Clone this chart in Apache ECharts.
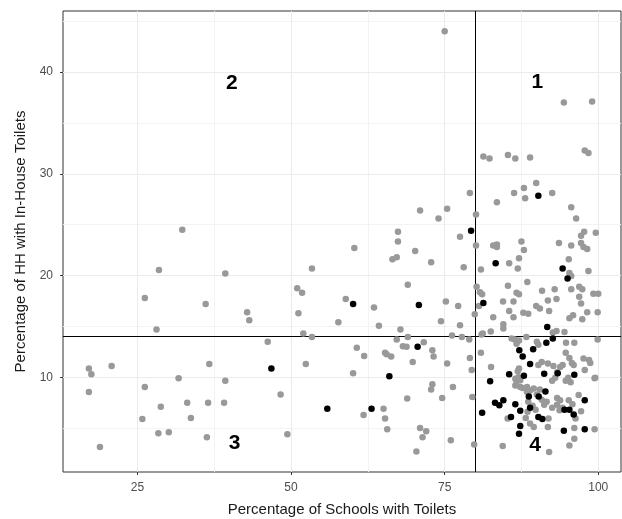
<!DOCTYPE html>
<html>
<head>
<meta charset="utf-8">
<script src="https://cdn.jsdelivr.net/npm/echarts@6/dist/echarts.min.js"></script>
<style>
html,body{margin:0;padding:0;background:#fff;}
#chart{width:622px;height:519px;}
</style>
</head>
<body>
<div id="chart"></div>
<script>
// ---- Data ----
var xTicks = [25, 50, 75, 100];
var yTicks = [10, 20, 30, 40];
var xMinorGrid = [37.5, 62.5, 87.5];
var yMinorGrid = [5, 15, 25, 35, 45];
var xCut = 80;
var yCut = 14;

var otherDistricts = [
  [32.3,24.5],[28.5,20.55],[39.3,20.2],[26.2,17.8],[36.1,17.2],[28.1,14.7],[17.1,10.85],[17.5,10.3],
  [20.8,11.1],[36.7,11.3],[17.1,8.55],[31.7,9.9],[39.3,9.65],[26.2,9.05],[28.8,7.1],[33.1,7.5],
  [36.5,7.5],[39.1,7.5],[25.8,5.9],[33.7,6.0],[28.4,4.5],[30.1,4.6],[36.3,4.1],[18.9,3.15],
  [42.85,16.4],[43.2,15.6],[46.2,13.5],[48.3,8.3],[49.4,4.4],[51.0,18.75],[51.8,18.3],[51.2,16.3],
  [52.0,14.3],[52.4,11.3],[53.4,20.7],[53.4,13.95],
  [60.3,22.7],[58.9,17.7],[63.5,16.85],[57.7,15.4],[64.3,15.05],[60.7,12.9],[61.9,12.1],[60.1,10.4],[61.8,6.3],
  [75.0,44.0],[79.1,28.1],[71.0,26.4],[75.4,26.55],[74.0,25.6],[80.1,26.0],[67.4,24.3],[67.4,23.35],
  [77.5,23.8],[80.1,22.95],[70.2,22.4],[67.2,21.8],[66.5,21.6],[72.8,21.3],[78.1,20.8],[80.9,20.6],
  [69.0,19.1],[80.2,18.9],[80.75,18.35],[81.1,18.15],[75.2,17.45],[77.2,17.0],[80.6,17.0],[79.9,16.2],
  [74.4,15.5],[77.5,15.1],[67.8,14.7],[76.2,14.1],[77.8,13.95],[79.0,13.7],[81.0,14.2],[67.2,13.7],
  [69.0,13.95],[68.2,13.05],[68.8,13.0],[71.6,13.45],[65.3,12.4],[65.55,12.25],[66.3,12.05],[73.0,12.65],
  [73.2,12.05],[69.8,11.5],[75.4,11.35],[79.1,11.9],[80.9,12.4],[79.4,10.7],[73.0,9.3],[72.8,8.8],
  [76.35,9.05],[74.6,7.95],[68.9,7.9],[79.5,8.05],[65.05,6.9],[65.3,5.95],[65.65,4.9],[71.0,5.0],
  [72.0,4.7],[71.4,4.1],[76.0,3.8],[79.8,3.4],[70.4,2.7],
  [94.4,37.0],[99.0,37.1],[81.3,31.7],[82.3,31.5],[85.3,31.85],[86.5,31.5],[88.9,31.6],[97.8,32.3],
  [98.4,32.05],[83.5,27.2],[86.3,28.1],[87.9,28.6],[89.9,29.1],[88.1,27.6],[92.5,28.1],[95.6,26.7],
  [96.4,25.6],[97.7,24.3],[99.6,24.2],[82.9,22.95],[83.5,23.05],[83.5,22.8],[87.5,23.35],[87.9,22.5],
  [93.6,23.2],[95.6,22.95],[97.2,23.9],[97.2,23.2],[97.6,22.8],[98.2,22.6],[87.1,21.7],[95.2,21.6],
  [85.5,21.2],[86.9,20.7],[88.45,19.35],[85.3,19.0],[86.7,18.3],[87.1,18.15],[90.85,18.5],[91.8,17.55],
  [86.2,17.45],[84.5,17.45],[89.9,17.0],[90.5,16.75],[85.5,16.5],
  [95.3,20.25],[95.6,19.95],[98.4,20.45],[92.9,18.65],[95.6,18.65],[96.9,18.9],[97.4,18.65],[99.2,18.2],
  [100.0,18.2],[93.2,17.7],[96.9,17.9],[97.2,17.25],
  [92.0,16.5],[98.2,16.4],[99.9,16.4],[95.9,16.1],[95.3,15.8],[97.4,15.7],[93.2,14.55],[92.6,14.4],
  [94.5,14.45],[96.1,13.4],[99.9,13.7],[94.75,13.4],
  [82.9,15.9],[86.2,15.9],[87.8,16.35],[88.6,16.25],[84.55,15.2],[84.55,14.8],[81.2,14.3],[82.5,14.5],
  [85.9,13.8],[86.4,13.7],[87.1,13.6],[86.7,13.3],[88.3,13.95],[90.0,13.5],[90.25,13.2],
  [94.7,12.4],[95.3,11.9],[95.7,11.4],[96.0,11.2],[97.6,11.85],[98.5,11.7],[98.7,11.4],[97.8,10.7],
  [99.4,9.9],[94.2,11.2],[93.8,11.0],[93.3,10.5],[92.5,9.65],[94.7,9.65],[95.5,9.5],[93.0,9.95],[95.1,9.95],
  [91.8,11.35],[92.7,11.1],[99.5,9.95],
  [96.8,8.25],[93.3,7.95],[93.8,7.75],[95.2,7.75],[95.8,7.35],[90.8,7.8],[91.2,7.3],[91.6,7.6],
  [93.3,7.3],[92.5,7.0],[94.2,7.0],[93.7,6.75],[97.2,6.65],[96.3,5.95],[91.9,5.95],[91.8,5.1],
  [96.1,5.0],[99.4,4.9],[96.1,3.95],[95.3,3.3],[92.0,2.65],
  [90.8,11.5],[90.25,11.2],[82.55,11.0],[86.9,10.6],[86.5,9.85],[86.7,9.55],[87.3,9.7],[87.7,8.95],
  [88.4,8.55],[88.9,8.7],[90.0,8.3],[90.5,8.8],[87.1,10.85],[87.0,10.0],[86.5,9.2],[87.3,9.05],
  [88.4,9.05],[89.5,8.9],
  [85.25,5.95],[88.9,5.45],[89.5,5.1],[84.45,3.25],
  [88.6,7.6],[89.3,7.2],[89.8,6.8],[88.5,6.6],[88.2,6.0]
];

var highlightDistricts = [
  [46.8,10.85],[60.1,17.2],[55.9,6.9],[63.1,6.9],[66.0,10.1],[70.8,17.1],[70.6,13.0],[79.3,24.4],
  [81.3,17.3],[81.1,6.5],[90.25,27.85],[83.3,21.2],[94.2,20.7],[95.0,19.7],[91.7,14.95],[92.6,13.8],
  [91.55,13.4],[87.15,12.65],[87.7,12.05],[89.4,12.75],[88.9,11.3],[85.5,10.3],[87.9,10.15],[91.2,10.35],
  [93.4,10.4],[96.1,10.25],[82.4,9.6],[91.4,8.6],[88.7,8.1],[90.3,8.1],[97.8,7.75],[83.2,7.5],
  [83.9,7.25],[84.55,7.75],[86.5,7.35],[87.3,6.7],[88.9,7.0],[90.25,6.1],[90.9,5.9],[85.8,6.1],
  [94.5,6.8],[95.3,6.8],[96.0,6.35],[87.3,5.2],[87.1,4.45],[94.4,4.75],[97.8,4.9]
];

var quadrantLabels = [
  [90.1, 39.05, '1'],
  [40.35, 38.9, '2'],
  [40.8, 3.5, '3'],
  [89.7, 3.3, '4']
];

// ---- Chart ----
var chart = echarts.init(document.getElementById('chart'), null, {renderer: 'canvas'});

function gl(key, v, color) {
  var o = {lineStyle: {color: color, width: 1, type: 'solid'}};
  o[key] = v;
  return o;
}
var gridLineData = []
  .concat(xMinorGrid.map(function (v) { return gl('xAxis', v, '#f3f3f3'); }))
  .concat(yMinorGrid.map(function (v) { return gl('yAxis', v, '#f3f3f3'); }))
  .concat(xTicks.map(function (v) { return gl('xAxis', v, '#ebebeb'); }))
  .concat(yTicks.map(function (v) { return gl('yAxis', v, '#ebebeb'); }));

var fontMain = 'Liberation Sans, Arial, sans-serif';

var option = {
  animation: false,
  backgroundColor: '#ffffff',
  grid: {
    left: 63, top: 11, right: 1, bottom: 47,
    show: true, borderColor: '#333333', borderWidth: 1, backgroundColor: 'transparent',
    outerBoundsMode: 'none'
  },
  xAxis: {
    type: 'value',
    min: 12.885, max: 103.7,
    name: 'Percentage of Schools with Toilets',
    nameLocation: 'middle',
    nameGap: 30,
    nameTextStyle: {fontSize: 15, color: '#1a1a1a', fontFamily: fontMain},
    axisLine: {show: false},
    axisTick: {show: true, length: 3, inside: false, customValues: xTicks, lineStyle: {color: '#333333'}},
    axisLabel: {show: true, customValues: xTicks, margin: 10, fontSize: 12, color: '#4d4d4d', fontFamily: fontMain},
    splitLine: {show: false}
  },
  yAxis: {
    type: 'value',
    min: 0.686, max: 46.0,
    name: 'Percentage of HH with In-House Toilets',
    nameLocation: 'middle',
    nameGap: 35,
    nameRotate: 90,
    nameTextStyle: {fontSize: 15, color: '#1a1a1a', fontFamily: fontMain},
    axisLine: {show: false},
    axisTick: {show: true, length: 3, inside: false, customValues: yTicks, lineStyle: {color: '#333333'}},
    axisLabel: {show: true, customValues: yTicks, margin: 10, fontSize: 12, color: '#4d4d4d', fontFamily: fontMain},
    splitLine: {show: false}
  },
  series: [
    {
      name: 'gridlines', type: 'scatter', data: [], zlevel: 0, z: 1, silent: true,
      markLine: {silent: true, symbol: 'none', animation: false, label: {show: false},
        emphasis: {disabled: true}, data: gridLineData}
    },
    {
      name: 'Other districts', type: 'scatter', zlevel: 1, z: 2, silent: true,
      symbol: 'circle', symbolSize: 6.5,
      itemStyle: {color: '#999999', opacity: 1},
      data: otherDistricts
    },
    {
      name: 'Highlighted districts', type: 'scatter', zlevel: 1, z: 3, silent: true,
      symbol: 'circle', symbolSize: 6.5,
      itemStyle: {color: '#000000', opacity: 1},
      data: highlightDistricts
    },
    {
      name: 'cutoffs', type: 'scatter', data: [], zlevel: 1, z: 4, silent: true,
      markLine: {silent: true, symbol: 'none', animation: false, label: {show: false},
        emphasis: {disabled: true},
        lineStyle: {color: '#000000', width: 1, type: 'solid'},
        data: [{xAxis: xCut}, {yAxis: yCut}]}
    },
    {
      name: 'quadrants', type: 'scatter', zlevel: 1, z: 5, silent: true,
      symbolSize: 0,
      itemStyle: {opacity: 1, color: '#000000'},
      data: quadrantLabels,
      label: {
        show: true, position: 'inside',
        formatter: function (p) { return p.data[2]; },
        fontSize: 21, fontWeight: 'bold', color: '#000000', opacity: 1,
        fontFamily: fontMain
      }
    }
  ]
};
chart.setOption(option);
</script>
</body>
</html>
